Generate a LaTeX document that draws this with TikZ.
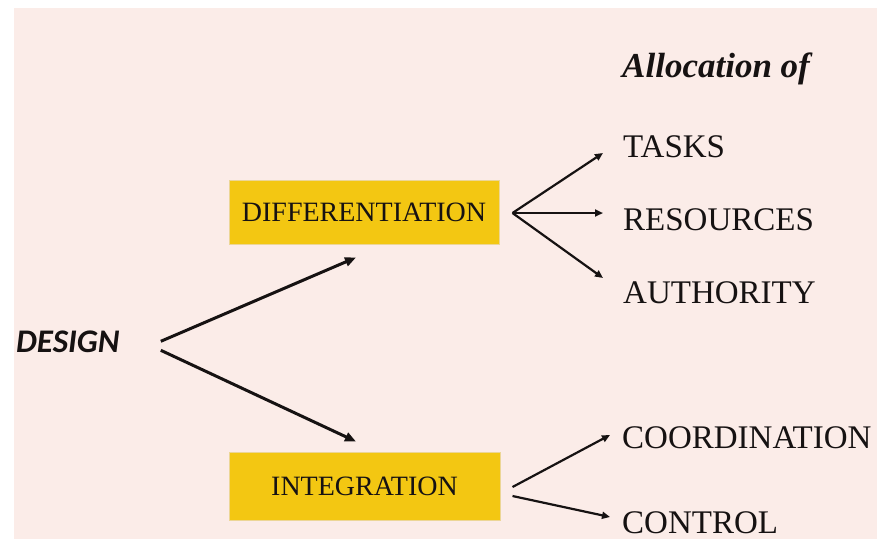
\documentclass[tikz,border=0pt]{standalone}
\usepackage{fontspec}
\setmainfont{Liberation Serif}
\newfontfamily\designfont{Carlito}
\usetikzlibrary{arrows.meta}
\definecolor{bg}{RGB}{251,236,232}
\definecolor{boxy}{RGB}{243,199,18}
\definecolor{boxline}{RGB}{236,214,150}
\definecolor{ink}{RGB}{22,18,18}
\tikzset{
  box/.style={draw=boxline, line width=1pt, fill=boxy, inner sep=0pt, text=ink,
              font=\fontsize{28}{30}\selectfont},
  item/.style={anchor=base west, inner sep=0pt, text=ink, font=\fontsize{33}{36}\selectfont},
  thickarr/.style={draw=ink, line width=3pt, -{Triangle[length=11pt,width=9pt]}},
  thinarr/.style={draw=ink, line width=2.2pt, -{Triangle[length=8pt,width=7pt]}}
}
\begin{document}
\begin{tikzpicture}[x=1pt,y=-1pt]
\useasboundingbox (0,0) rectangle (877,539);
\fill[white] (0,0) rectangle (877,539);
\fill[bg] (14,8) rectangle (877,539);

% boxes
\node[box, minimum width=270pt, minimum height=64pt] (diff) at (364,212) {DIFFERENTIATION};
\node[box, minimum width=271pt, minimum height=68pt] (integ) at (364.5,486) {INTEGRATION};

% left label
\node[anchor=base west, inner sep=0pt, text=ink, font=\designfont\bfseries\itshape\fontsize{33}{36}\selectfont] (design) at (16,352) {DESIGN};

% right labels
\node[anchor=base west, inner sep=0pt, text=ink, font=\bfseries\itshape\fontsize{35}{38}\selectfont] (alloc) at (622,77) {Allocation of};
\node[item] (tasks) at (623,157) {TASKS};
\node[item] (res) at (623,230) {RESOURCES};
\node[item] (auth) at (623,303) {AUTHORITY};
\node[item] (coord) at (622,448) {COORDINATION};
\node[item] (ctrl) at (622,533) {CONTROL};

% arrow start points
\coordinate (dsU) at ([xshift=41pt]design.east);
\coordinate (dsL) at ([xshift=41pt,yshift=-9pt]design.east);
\coordinate (dfR) at ([xshift=13pt,yshift=-1pt]diff.east);
\coordinate (inU) at ([xshift=12pt,yshift=-1pt]integ.east);
\coordinate (inL) at ([xshift=12pt,yshift=-10pt]integ.east);

\draw[thickarr] (dsU) -- ([xshift=-8pt,yshift=-13pt]diff.south);
\draw[thickarr] (dsL) -- ([xshift=-8.5pt,yshift=10pt]integ.north);

\draw[thinarr] (dfR) -- ([xshift=-20pt,yshift=4pt]tasks.base west);
\draw[thinarr] (dfR) -- ([xshift=-20pt,yshift=17pt]res.base west);
\draw[thinarr] (dfR) -- ([xshift=-20pt,yshift=25pt]auth.base west);

\draw[thinarr] (inU) -- ([xshift=-12pt,yshift=13pt]coord.base west);
\draw[thinarr] (inL) -- ([xshift=-12pt,yshift=16pt]ctrl.base west);
\end{tikzpicture}
\end{document}
